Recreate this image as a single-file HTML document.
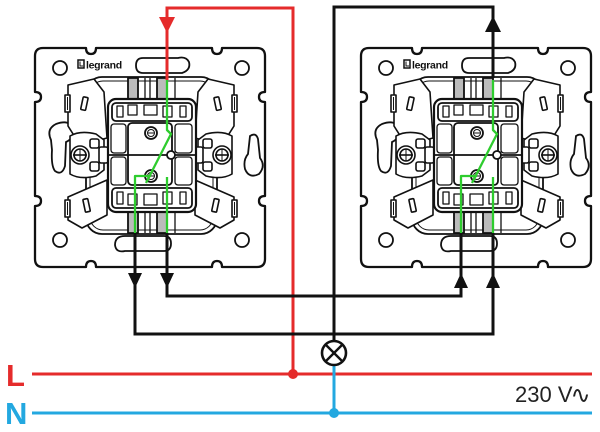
<!DOCTYPE html>
<html><head><meta charset="utf-8"><style>
html,body{margin:0;padding:0;background:#fff;}
svg{display:block;}
</style></head><body>
<svg width="600" height="432" viewBox="0 0 600 432" xmlns="http://www.w3.org/2000/svg">
<rect width="600" height="432" fill="#fff"/>
<defs>
<g id="clamp" fill="#fff" stroke="#111" stroke-width="1.6" stroke-linejoin="round">
  <polygon points="68,85 94,79 104,92 107,138 80,145 68,126"/>
  <rect x="65" y="95" width="5" height="17" fill="#fff"/>
  <line x1="67.5" y1="97" x2="67.5" y2="110" stroke-width="1"/>
  <rect x="82" y="97" width="5" height="13" rx="1" transform="rotate(12 84 103)"/>
  <polygon points="68,197 107,180 107,215 82,228 68,220"/>
  <rect x="65" y="200" width="5" height="17" fill="#fff"/>
  <line x1="67.5" y1="202" x2="67.5" y2="215" stroke-width="1"/>
  <rect x="84" y="199" width="5" height="13" rx="1" transform="rotate(-12 86 205)"/>
  <path d="M70,136 Q80,130 96,134 L104,140 L104,170 L96,176 Q80,180 70,174 Z"/>
  <circle cx="80" cy="155" r="9"/>
  <circle cx="80" cy="155" r="6"/>
  <line x1="73" y1="155" x2="87" y2="155"/>
  <line x1="80" y1="149" x2="80" y2="161" stroke-width="1"/>
  <rect x="99" y="147" width="9" height="16" rx="2"/>
  <rect x="90" y="139" width="9" height="9" rx="2"/>
  <rect x="90" y="162" width="9" height="9" rx="2"/>
</g>
<g id="sw" fill="#fff" stroke="#111" stroke-width="1.8" stroke-linejoin="round">
  <path stroke-width="2.3" d="M43,48 H86 Q86,54 91,54 Q96,54 96,48 H212 Q212,54 217,54 Q222,54 222,48 H257 Q265,48 265,56 V92 Q259,92 259,97 Q259,102 265,102 V196 Q259,196 259,201 Q259,206 265,206 V259 Q265,267 257,267 H222 Q222,261 217,261 Q212,261 212,267 H96 Q96,261 91,261 Q86,261 86,267 H43 Q35,267 35,259 V206 Q41,206 41,201 Q41,196 35,196 V102 Q41,102 41,97 Q41,92 35,92 V56 Q35,48 43,48 Z"/>
  <circle cx="60" cy="68" r="7"/>
  <circle cx="242" cy="68" r="7"/>
  <circle cx="60" cy="240" r="7"/>
  <circle cx="242" cy="240" r="7"/>
  <path d="M143,58 H178 Q186,56 189,62 Q191,70 182,73 H143 Q136,73 136,65.5 Q136,58 143,58 Z"/>
  <path d="M125,236 H164 Q171,236 171,243.5 Q171,251 164,251 H125 Q116,253 115,245 Q115,236 125,236 Z"/>
  <path d="M56,124 Q70,119 73,129 Q75,138 66,142 L65,166 Q62,176 55,171 Q51,166 52,150 L51,140 Q46,129 56,124 Z"/>
  <path d="M250,136 Q256,132 258,139 L260,158 Q266,166 259,174 Q249,179 245,169 Q243,160 248,154 Z"/>
  <rect x="86" y="77" width="131" height="157" rx="16"/>
  <rect x="90" y="81" width="123" height="149" rx="13" stroke-width="1"/>
  <rect x="128" y="78" width="10" height="22" fill="#bbb"/>
  <rect x="157" y="78" width="10" height="22" fill="#bbb"/>
  <rect x="128" y="211" width="10" height="22" fill="#bbb"/>
  <rect x="157" y="211" width="10" height="22" fill="#bbb"/>
  <line x1="145" y1="78" x2="145" y2="100" stroke-width="1.3"/>
  <line x1="150" y1="78" x2="150" y2="100" stroke-width="1.3"/>
  <line x1="175" y1="78" x2="175" y2="100" stroke-width="1.3"/>
  <line x1="145" y1="211" x2="145" y2="233" stroke-width="1.3"/>
  <line x1="150" y1="211" x2="150" y2="233" stroke-width="1.3"/>
  <line x1="175" y1="211" x2="175" y2="233" stroke-width="1.3"/>
  <use href="#clamp"/>
  <use href="#clamp" transform="translate(302,0) scale(-1,1)"/>
  <rect x="108" y="99" width="88" height="113" rx="8" stroke-width="2.2"/>
  <rect x="112" y="103" width="80" height="18" rx="4"/>
  <rect x="112" y="188" width="80" height="20" rx="4"/>
  <rect x="117" y="106" width="6" height="11" stroke-width="1.3"/>
  <rect x="128" y="105" width="9" height="10" stroke-width="1.3"/>
  <rect x="144" y="105" width="13" height="10" stroke-width="1.3"/>
  <rect x="163" y="106" width="9" height="11" stroke-width="1.3"/>
  <rect x="180" y="106" width="6" height="11" stroke-width="1.3"/>
  <rect x="117" y="192" width="6" height="12" stroke-width="1.3"/>
  <rect x="128" y="194" width="9" height="11" stroke-width="1.3"/>
  <rect x="144" y="194" width="13" height="11" stroke-width="1.3"/>
  <rect x="163" y="192" width="9" height="12" stroke-width="1.3"/>
  <rect x="180" y="192" width="6" height="12" stroke-width="1.3"/>
  <rect x="111" y="124" width="15" height="29" rx="3" stroke-width="1.3"/>
  <rect x="111" y="157" width="15" height="28" rx="3" stroke-width="1.3"/>
  <rect x="175" y="124" width="17" height="29" rx="3" stroke-width="1.3"/>
  <rect x="175" y="157" width="17" height="28" rx="3" stroke-width="1.3"/>
  <rect x="128" y="123" width="44" height="62" rx="4"/>
  <line x1="108" y1="155" x2="196" y2="155"/>
  <circle cx="151" cy="133" r="6"/>
  <circle cx="151" cy="133" r="3.5" stroke-width="1"/>
  <line x1="148" y1="133" x2="154" y2="133" stroke-width="1"/>
  <circle cx="151" cy="176" r="6"/>
  <circle cx="151" cy="176" r="3.5" stroke-width="1"/>
  <line x1="148" y1="176" x2="154" y2="176" stroke-width="1"/>
  <circle cx="171" cy="155" r="4"/>
  <g fill="none" stroke="#2ecc2e" stroke-width="2.3" stroke-linejoin="round">
    <path d="M167,80 V130 L171,134 L146,183"/>
    <path d="M135,233 V176 H151"/>
    <path d="M167,233 V177"/>
  </g>
</g>
</defs>

<use href="#sw"/>
<use href="#sw" transform="translate(326,0)"/>

<g font-family="Liberation Sans, sans-serif" font-weight="bold" font-size="10.5" fill="#111">
  <rect x="78" y="60" width="6" height="8" fill="none" stroke="#111" stroke-width="1.5"/>
  <path d="M80,61.5 V66 H83" fill="none" stroke="#111" stroke-width="1"/>
  <text x="86" y="68.5" letter-spacing="-0.3">legrand</text>
  <rect x="404" y="60" width="6" height="8" fill="none" stroke="#111" stroke-width="1.5"/>
  <path d="M406,61.5 V66 H409" fill="none" stroke="#111" stroke-width="1"/>
  <text x="412" y="68.5" letter-spacing="-0.3">legrand</text>
</g>

<!-- wires -->
<g fill="none" stroke-width="3" stroke-linejoin="miter" stroke-linecap="butt">
  <path d="M167,80 V8 H293 V374" stroke="#e52b2b"/>
  <path d="M32,374 H592" stroke="#e52b2b"/>
  <path d="M32,413 H592" stroke="#23a8e0"/>
  <path d="M334,365 V413" stroke="#23a8e0"/>
  <path d="M493,78 V7 H334 V341" stroke="#111"/>
  <path d="M135,233 V334 H493 V233" stroke="#111"/>
  <path d="M167,233 V296 H461 V233" stroke="#111"/>
</g>
<circle cx="293" cy="374" r="5" fill="#e52b2b"/>
<circle cx="334" cy="413" r="5" fill="#23a8e0"/>
<polygon points="159,17 175,17 167,33" fill="#e52b2b"/>
<polygon points="485,32 501,32 493,16" fill="#111"/>
<polygon points="128,273 142,273 135,288" fill="#111"/>
<polygon points="160,273 174,273 167,288" fill="#111"/>
<polygon points="454,288 468,288 461,273" fill="#111"/>
<polygon points="486,288 500,288 493,273" fill="#111"/>

<!-- lamp -->
<circle cx="334" cy="353" r="12" fill="#fff" stroke="#111" stroke-width="2.6"/>
<line x1="325.5" y1="344.5" x2="342.5" y2="361.5" stroke="#111" stroke-width="2.4"/>
<line x1="342.5" y1="344.5" x2="325.5" y2="361.5" stroke="#111" stroke-width="2.4"/>

<!-- labels -->
<text x="6" y="386" font-family="Liberation Sans, sans-serif" font-weight="bold" font-size="31" fill="#e52b2b">L</text>
<text x="5" y="424" font-family="Liberation Sans, sans-serif" font-weight="bold" font-size="31" fill="#23a8e0">N</text>
<text x="515" y="402" font-family="Liberation Sans, sans-serif" font-size="22" fill="#222">230 V<tspan font-family="DejaVu Sans, sans-serif" font-size="24" dx="-2" dy="1">∿</tspan></text>
</svg>
</body></html>
